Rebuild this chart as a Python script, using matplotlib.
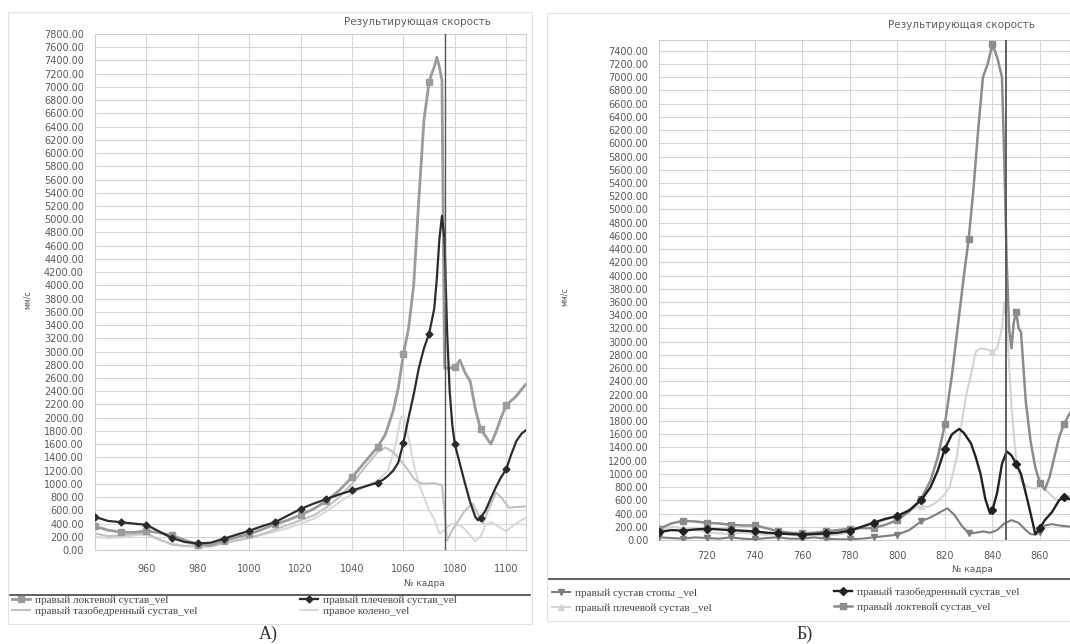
import numpy as np
import matplotlib
matplotlib.use("Agg")
import matplotlib.pyplot as plt
from matplotlib.lines import Line2D
from matplotlib.patches import Rectangle

# ---------------- data: chart A ----------------
a_elbow_frames = [940, 945, 950, 955, 960, 965, 970, 975, 980, 985, 990, 995, 1000, 1005, 1010, 1015, 1020,
                  1025, 1030, 1035, 1040, 1045, 1050, 1053, 1056, 1058, 1060, 1062, 1064, 1066, 1068, 1070,
                  1071, 1072, 1073, 1074, 1075, 1076, 1078, 1080, 1082, 1084, 1086, 1088, 1090, 1092, 1094,
                  1096, 1098, 1100, 1102, 1104, 1106, 1108]
a_elbow_vals = [360, 300, 270, 265, 290, 260, 220, 150, 80, 70, 140, 190, 240, 310, 390, 450, 530,
                620, 740, 900, 1100, 1330, 1560, 1750, 2100, 2450, 2960, 3350, 4000, 5300, 6500, 7080,
                7200, 7300, 7450, 7300, 7100, 2750, 2750, 2760, 2870, 2680, 2550, 2130, 1830, 1720, 1600,
                1780, 2000, 2190, 2260, 2330, 2430, 2520]

a_shoulder_frames = [940, 945, 950, 955, 960, 965, 970, 975, 980, 985, 990, 995, 1000, 1005, 1010, 1015,
                     1020, 1025, 1030, 1035, 1040, 1045, 1050, 1052, 1054, 1056, 1058, 1060, 1062, 1064,
                     1066, 1068, 1070, 1072, 1073, 1074, 1075, 1076, 1077, 1078, 1079, 1080, 1082, 1084,
                     1086, 1088, 1089, 1090, 1092, 1094, 1096, 1098, 1100, 1102, 1104, 1106, 1108]
a_shoulder_vals = [500, 440, 420, 400, 380, 280, 180, 120, 100, 110, 170, 230, 290, 360, 420, 520,
                   620, 700, 770, 840, 900, 960, 1020, 1060, 1120, 1200, 1320, 1620, 2000, 2350,
                   2750, 3050, 3270, 3650, 4100, 4700, 5050, 4700, 3300, 2400, 1900, 1600, 1300, 1000,
                   720, 500, 450, 480, 600, 780, 950, 1100, 1220, 1450, 1650, 1760, 1820]

a_hip_frames = [940, 945, 950, 955, 960, 965, 970, 975, 980, 985, 990, 995, 1000, 1005, 1010, 1015, 1020,
                1025, 1030, 1035, 1040, 1045, 1050, 1053, 1056, 1058, 1060, 1062, 1064, 1066, 1068, 1072,
                1075, 1077, 1079, 1081, 1084, 1087, 1089, 1091, 1093, 1096, 1098, 1101, 1104, 1108]
a_hip_vals = [250, 210, 220, 240, 250, 160, 80, 60, 80, 60, 100, 140, 180, 240, 310, 380, 450,
              520, 640, 800, 1000, 1250, 1480, 1550, 1480, 1400, 1300, 1200, 1080, 1020, 1000, 1010,
              980, 140, 300, 420, 600, 700, 550, 400, 600, 870, 800, 640, 650, 660]

a_knee_frames = [940, 945, 950, 955, 960, 965, 970, 975, 980, 985, 990, 995, 1000, 1005, 1010, 1015, 1020,
                 1025, 1030, 1035, 1040, 1045, 1050, 1054, 1057, 1059, 1060, 1062, 1064, 1066, 1068, 1070,
                 1072, 1074, 1076, 1078, 1080, 1083, 1086, 1088, 1090, 1092, 1094, 1096, 1098, 1100, 1103,
                 1108]
a_knee_vals = [200, 180, 190, 220, 230, 150, 100, 60, 40, 50, 100, 150, 190, 230, 280, 330, 400,
               470, 580, 720, 850, 960, 1050, 1200, 1600, 2000, 2030, 1700, 1300, 1000, 800, 600,
               470, 250, 300, 380, 400, 350, 220, 130, 200, 380, 420, 380, 330, 280, 380,
               500]

a_cursor = 1076
a_labels = ["правый локтевой сустав_vel", "правый тазобедренный сустав_vel",
            "правый плечевой сустав_vel", "правое колено_vel"]

# ---------------- data: chart Б ----------------
b_foot_frames = [700, 705, 710, 715, 720, 725, 730, 735, 740, 745, 750, 755, 760, 765, 770, 775, 780, 785,
                 790, 795, 800, 805, 810, 815, 818, 821, 824, 827, 830, 833, 836, 839, 842, 845, 848, 851,
                 854, 856, 858, 860, 862, 865, 868, 873]
b_foot_vals = [40, 30, 20, 40, 30, 20, 40, 20, 10, 30, 40, 20, 20, 40, 20, 10, 10, 20,
               40, 60, 80, 150, 280, 360, 420, 480, 380, 220, 100, 110, 130, 110, 150, 250, 300, 260,
               150, 90, 80, 120, 220, 240, 220, 200]

b_hip_frames = [700, 705, 710, 715, 720, 725, 730, 735, 740, 745, 750, 755, 760, 765, 770, 775, 780, 785,
                790, 795, 800, 805, 810, 814, 817, 820, 823, 826, 828, 831, 833, 835, 837, 839, 840, 842,
                844, 846, 848, 850, 852, 855, 857, 858, 860, 862, 865, 868, 870, 873]
b_hip_vals = [120, 150, 140, 160, 170, 160, 150, 140, 130, 110, 100, 90, 80, 90, 100, 110, 140, 200,
              260, 320, 360, 450, 600, 800, 1050, 1380, 1600, 1680, 1620, 1460, 1250, 1000, 620, 400, 450, 720,
              1150, 1340, 1280, 1150, 1000, 560, 250, 90, 180, 300, 420, 600, 650, 610]

b_shoulder_frames = [700, 705, 710, 715, 720, 725, 730, 735, 740, 745, 750, 755, 760, 765, 770, 775, 780,
                     785, 790, 795, 800, 805, 810, 813, 816, 819, 822, 825, 827, 829, 831, 833, 835, 838,
                     840, 842, 844, 845, 846, 848, 850, 852, 855, 858, 861, 864, 867, 870, 873]
b_shoulder_vals = [150, 200, 180, 150, 120, 100, 90, 110, 90, 80, 90, 80, 60, 80, 70, 80, 120,
                   200, 260, 300, 380, 450, 520, 500, 560, 650, 800, 1250, 1750, 2200, 2500, 2850, 2900, 2880,
                   2850, 2900, 3200, 3600, 3300, 2000, 1200, 900, 800, 780, 820, 700, 600, 650, 680]

b_elbow_frames = [700, 705, 710, 715, 720, 725, 730, 735, 740, 745, 750, 755, 760, 765, 770, 775, 780, 785,
                  790, 795, 800, 805, 810, 814, 817, 820, 823, 826, 828, 830, 832, 834, 836, 838, 840, 842,
                  844, 845, 846, 847, 848, 849, 850, 851, 852, 854, 856, 858, 860, 862, 864, 866, 868, 870,
                  873]
b_elbow_vals = [170, 250, 290, 280, 260, 250, 230, 220, 220, 180, 130, 110, 100, 110, 130, 150, 170, 180,
                180, 230, 300, 430, 620, 900, 1250, 1750, 2500, 3400, 4000, 4550, 5300, 6200, 7000, 7200, 7500, 7300,
                7000, 5700, 4200, 3200, 2900, 3300, 3450, 3200, 3150, 2100, 1500, 1100, 860, 760, 950, 1250, 1550, 1750,
                1950]

b_cursor = 845.8
b_labels = ["правый сустав стопы _vel", "правый плечевой сустав _vel",
            "правый тазобедренный сустав_vel", "правый локтевой сустав_vel"]

title_text = "Результирующая скорость"
xlabel_text = "№ кадра"
ylabel_text = "мм/с"

# ---------------- figure ----------------
W, H = 1070, 644
fig = plt.figure(figsize=(W / 100, H / 100), dpi=100)


def fx(px):
    return px / W


def fy(py):
    return 1 - py / H


def add_axes_px(l, t, r, b):
    return fig.add_axes([fx(l), fy(b), fx(r) - fx(l), (b - t) / H])


def every10(frames):
    return [i for i, f in enumerate(frames) if f % 10 == 0]


def style_axes(ax, xlim, ylim, xticks, yticks, xpad, ypad):
    ax.set_xlim(*xlim)
    ax.set_ylim(*ylim)
    ax.set_xticks(xticks)
    ax.set_yticks(yticks)
    ax.set_yticklabels([f"{v:.2f}" for v in yticks])
    ax.grid(True, color="#d6d6d6", lw=0.8)
    ax.set_axisbelow(True)
    ax.tick_params(length=0, labelsize=7, labelcolor="#5a5a5a")
    ax.tick_params(axis="x", pad=xpad)
    ax.tick_params(axis="y", pad=ypad)
    for s in ax.spines.values():
        s.set_color("#d0d0d0")
        s.set_linewidth(0.8)


# panel frames
fig.add_artist(Rectangle((fx(8), fy(624)), fx(532) - fx(8), (624 - 12) / H, transform=fig.transFigure,
                         fill=False, ec="#e2e2e2", lw=0.8))
fig.add_artist(Rectangle((fx(547), fy(621)), fx(1075) - fx(547), (621 - 13) / H, transform=fig.transFigure,
                         fill=False, ec="#e2e2e2", lw=0.8))

# ---------------- chart A ----------------
axA = add_axes_px(95, 34, 526, 550)
style_axes(axA, (940, 1107.7), (0, 7800), list(range(960, 1101, 20)), list(range(0, 7801, 200)), 10, 8)

lA_knee, = axA.plot(a_knee_frames, a_knee_vals, color="#d9d9d9", lw=1.5, zorder=2)
lA_hip, = axA.plot(a_hip_frames, a_hip_vals, color="#c2c2c2", lw=1.5, zorder=2)
lA_elb, = axA.plot(a_elbow_frames, a_elbow_vals, color="#9b9b9b", lw=2.0, marker="s", ms=4.5,
                   markevery=every10(a_elbow_frames), zorder=3)
lA_sh, = axA.plot(a_shoulder_frames, a_shoulder_vals, color="#2c2c2c", lw=1.6, marker="D", ms=3.5,
                  markevery=every10(a_shoulder_frames), zorder=4)
axA.axvline(a_cursor, color="#555555", lw=1.0, zorder=5)

# ---------------- chart Б ----------------
axB = add_axes_px(659.4, 39.5, 1070, 540)
style_axes(axB, (700, 872.6), (0, 7570), list(range(720, 861, 20)), list(range(0, 7401, 200)), 8, 8)

lB_sh, = axB.plot(b_shoulder_frames, b_shoulder_vals, color="#d4d4d4", lw=1.5, marker="^", ms=4,
                  markevery=every10(b_shoulder_frames), zorder=2)
lB_foot, = axB.plot(b_foot_frames, b_foot_vals, color="#7e7e7e", lw=1.5, marker="v", ms=4.5,
                    markevery=every10(b_foot_frames), zorder=3)
lB_elb, = axB.plot(b_elbow_frames, b_elbow_vals, color="#8c8c8c", lw=1.8, marker="s", ms=4.5,
                   markevery=every10(b_elbow_frames), zorder=3)
lB_hip, = axB.plot(b_hip_frames, b_hip_vals, color="#222222", lw=1.7, marker="D", ms=3.8,
                   markevery=every10(b_hip_frames), zorder=4)
axB.axvline(b_cursor, color="#555555", lw=1.3, zorder=5)

# ---------------- texts ----------------
tkw = dict(color="#606060", fontsize=7.5, ha="center", va="center")
fig.text(fx(417), fy(22), title_text, **tkw)
fig.text(fx(962), fy(25), title_text, **tkw)
fig.text(fx(424), fy(583), xlabel_text, color="#555555", fontsize=6.5, ha="center", va="center")
fig.text(fx(972), fy(569), xlabel_text, color="#555555", fontsize=6.5, ha="center", va="center")
fig.text(fx(27), fy(300), ylabel_text, color="#555555", fontsize=5.5, ha="center", va="center", rotation=90)
fig.text(fx(564), fy(297), ylabel_text, color="#555555", fontsize=5.5, ha="center", va="center", rotation=90)
fig.text(fx(268), fy(634), "А)", family="Liberation Serif", fontsize=13, color="#333333", ha="center", va="center")
fig.text(fx(805), fy(634), "Б)", family="Liberation Serif", fontsize=13, color="#333333", ha="center", va="center")

# separators above legends
fig.add_artist(Line2D([fx(10), fx(530)], [fy(595), fy(595)], transform=fig.transFigure, color="#555555", lw=1.3))
fig.add_artist(Line2D([fx(549), fx(1070)], [fy(579), fy(579)], transform=fig.transFigure, color="#555555", lw=1.3))

# legends
lkw = dict(loc="upper left", frameon=False, borderpad=0, borderaxespad=0, handlelength=1.6,
           handletextpad=0.5, prop={"family": "Liberation Serif", "size": 8}, labelcolor="#444444")


def handle_of(line):
    return Line2D([], [], color=line.get_color(), lw=line.get_linewidth(), marker=line.get_marker(),
                  ms=line.get_markersize())


fig.legend([handle_of(lA_elb), handle_of(lA_hip)], a_labels[:2], bbox_to_anchor=(fx(12), fy(595)),
           labelspacing=0.12, **lkw)
fig.legend([handle_of(lA_sh), handle_of(lA_knee)], a_labels[2:], bbox_to_anchor=(fx(300), fy(595)),
           labelspacing=0.12, **lkw)
fig.legend([handle_of(lB_foot), handle_of(lB_sh)], b_labels[:2], bbox_to_anchor=(fx(552), fy(588)),
           labelspacing=0.45, **lkw)
fig.legend([handle_of(lB_hip), handle_of(lB_elb)], b_labels[2:], bbox_to_anchor=(fx(834), fy(587)),
           labelspacing=0.45, **lkw)

fig.savefig("out.png", dpi=100, facecolor="white")
